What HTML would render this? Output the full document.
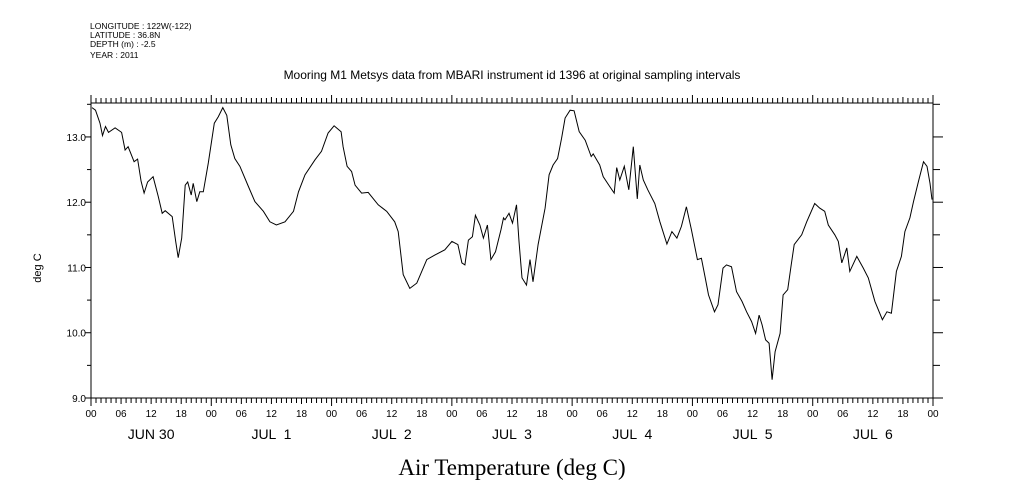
<!DOCTYPE html>
<html><head><meta charset="utf-8"><style>
body{margin:0;background:#fff;}
svg{display:block;font-family:"Liberation Sans",sans-serif;}
</style></head><body>
<svg id="chart" width="1009" height="504" viewBox="0 0 1009 504" xmlns="http://www.w3.org/2000/svg">
<g font-size="8.5" fill="#000">
<text x="90" y="29">LONGITUDE : 122W(-122)</text>
<text x="90" y="38">LATITUDE : 36.8N</text>
<text x="90" y="47">DEPTH (m) : -2.5</text>
<text x="90" y="58">YEAR : 2011</text>
</g>
<text x="512" y="79" font-size="12" text-anchor="middle">Mooring M1 Metsys data from MBARI instrument id 1396 at original sampling intervals</text>
<text x="512" y="475" font-size="23" text-anchor="middle" font-family="Liberation Serif,serif">Air Temperature (deg C)</text>
<text x="41" y="268" font-size="11" text-anchor="middle" transform="rotate(-90 41 268)">deg C</text>
<rect x="91" y="103" width="842" height="295" fill="none" stroke="#000" stroke-width="1"/>
<g id="axes"></g>
<path id="line" fill="none" stroke="#000" stroke-width="1"/>
</svg>
<script>
const hours=[0.2,0.9,1.8,2.3,2.9,3.5,4.8,6.1,6.8,7.4,8.6,9.3,10.0,10.6,11.3,12.4,13.4,14.2,14.8,16.2,16.9,17.4,18.1,18.8,19.3,20.0,20.4,21.1,21.7,22.4,23.4,24.6,25.4,26.3,27.1,27.9,28.7,29.7,31.4,32.7,34.4,35.7,37.0,38.7,40.4,41.4,42.7,44.7,46.0,47.3,48.5,49.9,50.3,51.1,52.0,52.7,54.0,55.3,57.3,59.0,60.6,61.3,62.3,63.6,65.0,67.0,68.6,70.6,72.0,73.2,74.0,74.6,75.3,76.1,76.7,77.6,78.3,79.1,79.8,80.7,81.8,82.3,82.6,83.4,84.1,84.9,85.4,86.0,86.9,87.6,88.2,89.2,90.6,91.4,92.2,93.1,93.9,94.6,95.6,96.4,97.4,98.6,99.8,100.2,101.5,102.2,103.5,104.4,104.9,105.5,106.4,107.3,108.2,109.0,109.5,110.2,111.1,112.5,113.5,114.9,115.9,116.9,117.8,118.8,119.8,121.0,121.8,122.5,123.2,124.4,125.1,126.1,126.8,127.8,128.8,129.9,130.8,131.8,132.6,133.3,133.9,134.6,135.3,135.9,136.5,137.5,138.1,139.0,139.7,140.3,141.8,142.8,144.4,145.4,146.4,147.1,148.4,149.1,149.8,150.8,151.4,152.8,154.1,155.1,156.4,157.9,158.8,159.7,160.7,161.7,162.4,163.4,164.1,165.1,166.1,166.8,167.4,167.8];
const temps=[13.45,13.41,13.21,13.02,13.16,13.07,13.14,13.07,12.80,12.85,12.62,12.66,12.32,12.14,12.31,12.39,12.09,11.83,11.87,11.78,11.40,11.15,11.45,12.26,12.31,12.11,12.29,12.01,12.16,12.16,12.60,13.21,13.31,13.45,13.33,12.88,12.67,12.55,12.24,12.01,11.86,11.70,11.65,11.70,11.86,12.16,12.42,12.65,12.78,13.06,13.17,13.08,12.85,12.55,12.47,12.26,12.14,12.15,11.96,11.86,11.70,11.55,10.89,10.68,10.76,11.12,11.19,11.27,11.40,11.35,11.07,11.04,11.42,11.47,11.80,11.65,11.45,11.65,11.12,11.24,11.58,11.76,11.73,11.83,11.68,11.96,11.40,10.84,10.73,11.12,10.78,11.35,11.91,12.42,12.57,12.67,12.98,13.29,13.41,13.40,13.08,12.95,12.70,12.74,12.57,12.39,12.24,12.14,12.53,12.34,12.55,12.19,12.85,12.05,12.57,12.34,12.19,11.98,11.70,11.36,11.55,11.45,11.63,11.93,11.58,11.12,11.14,10.86,10.58,10.32,10.43,10.99,11.04,11.01,10.63,10.48,10.32,10.17,9.99,10.27,10.12,9.89,9.84,9.28,9.71,9.99,10.58,10.66,11.04,11.35,11.50,11.70,11.98,11.91,11.86,11.65,11.50,11.40,11.07,11.30,10.94,11.17,10.99,10.84,10.48,10.20,10.32,10.30,10.94,11.17,11.55,11.76,12.01,12.32,12.62,12.55,12.29,12.04];
const yTicks=["9.0","10.0","11.0","12.0","13.0"];
const hourLabels=["00","06","12","18"];
const dayLabels=["JUN 30","JUL  1","JUL  2","JUL  3","JUL  4","JUL  5","JUL  6"];
const X0=91,X1=933,Y0=398,Y1=103,HMAX=168,VMIN=9,VMAX=13.52;
const xs=h=>X0+(h/HMAX)*(X1-X0);
const ys=v=>Y0-(v-VMIN)/(VMAX-VMIN)*(Y0-Y1);
const NS="http://www.w3.org/2000/svg";
const ax=document.getElementById('axes');
function ln(x1,y1,x2,y2,name){const l=document.createElementNS(NS,'line');l.setAttribute('x1',x1);l.setAttribute('y1',y1);l.setAttribute('x2',x2);l.setAttribute('y2',y2);l.setAttribute('stroke','#000');


ax.appendChild(l);}
function tx(x,y,s,size,anchor,name){const t=document.createElementNS(NS,'text');t.setAttribute('x',x);t.setAttribute('y',y);t.setAttribute('font-size',size);t.setAttribute('text-anchor',anchor);t.textContent=s;t.style.whiteSpace='pre';


ax.appendChild(t);}
yTicks.forEach(s=>{const v=parseFloat(s),y=ys(v);
ln(X0-6,y,X0,y,'y-tick');ln(X1,y,X1+10,y,'y-tick-right');
tx(X0-5,y+4,s,10,'end','y-tick-label');
if(v+0.5<VMAX){const y2=ys(v+0.5);ln(X1,y2,X1+7,y2,'y-minor-tick');ln(X0-4,y2,X0,y2,'y-minor-tick-left');}});
for(let h=0;h<=HMAX;h++){const x=xs(h);const major=h%6===0;
ln(x,Y1,x,Y1-(major?(h%24===0?8:6):5),'x-top-tick');
ln(x,Y0,x,Y0+(major?(h%24===0?8:6):5),'x-bottom-tick');
if(major)tx(x,Y0+19,hourLabels[(h%24)/6],10,'middle','hour-label');}
dayLabels.forEach((d,i)=>tx(xs(i*24+12),439,d,14,'middle','day-label'));
let d='';hours.forEach((h,i)=>{d+=(i?'L':'M')+xs(h).toFixed(1)+' '+ys(temps[i]).toFixed(1);});
document.getElementById('line').setAttribute('d',d);
</script>
</body></html>
